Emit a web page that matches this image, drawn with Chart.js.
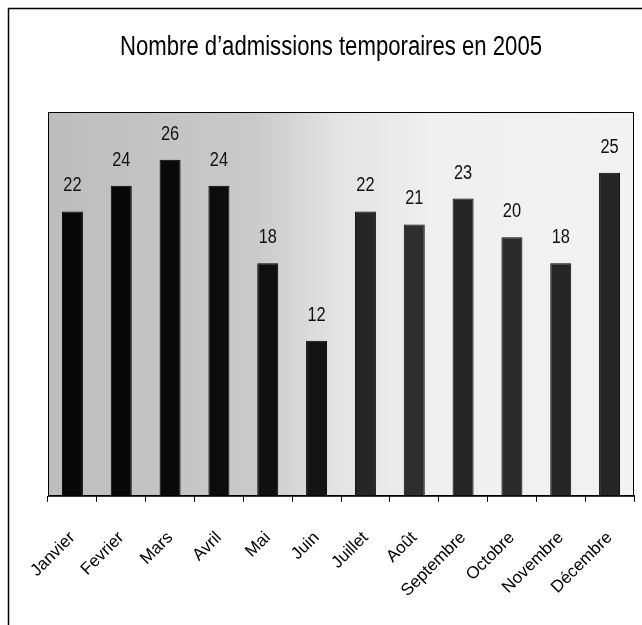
<!DOCTYPE html>
<html>
<head>
<meta charset="utf-8">
<script src="https://cdn.jsdelivr.net/npm/chart.js@4/dist/chart.umd.min.js"></script>
<style>
  html, body { margin: 0; padding: 0; background: #fff; }
  #wrap { width: 642px; height: 625px; }
</style>
</head>
<body>
<div id="wrap"><canvas id="admChart" width="642" height="625"></canvas></div>
<script>
const chartTitle = 'Nombre d’admissions temporaires en 2005';
const months = ['Janvier', 'Fevrier', 'Mars', 'Avril', 'Mai', 'Juin', 'Juillet', 'Août', 'Septembre', 'Octobre', 'Novembre', 'Décembre'];
const admissions = [22, 24, 26, 24, 18, 12, 22, 21, 23, 20, 18, 25];
const barColors = ['#080808', '#080808', '#0a0a0a', '#0c0c0c', '#101010', '#141414', '#262626', '#2e2e2e', '#262626', '#2a2a2a', '#262626', '#262626'];

const sans = "'Liberation Sans', Arial, sans-serif";

// narrow look: Liberation Sans squeezed horizontally
function narrowText(ctx, txt, x, y, size) {
    ctx.save();
    ctx.font = size + 'px ' + sans;
    ctx.translate(x, y);
    ctx.scale(0.82, 1);
    ctx.fillText(txt, 0, 0);
    ctx.restore();
}

// frame, title, speckled plot background, value labels
const backdrop = {
    id: 'backdrop',
    beforeDraw(chart) {
        const ctx = chart.ctx;
        const a = chart.chartArea;
        ctx.save();
        ctx.strokeStyle = '#000';
        ctx.lineWidth = 1.5;
        ctx.beginPath();
        ctx.moveTo(8.5, 625);
        ctx.lineTo(8.5, 8.5);
        ctx.lineTo(642, 8.5);
        ctx.stroke();

        ctx.fillStyle = '#000';
        ctx.textAlign = 'center';
        ctx.textBaseline = 'middle';
        narrowText(ctx, chartTitle, 331, 48, 27);

        const g = ctx.createLinearGradient(a.left, 0, a.right, 0);
        g.addColorStop(0, '#bdbdbd');
        g.addColorStop(0.35, '#c9c9c9');
        g.addColorStop(0.5, '#e4e4e4');
        g.addColorStop(0.65, '#efefef');
        g.addColorStop(1, '#f2f2f2');
        ctx.fillStyle = g;
        ctx.fillRect(a.left, a.top, a.right - a.left, a.bottom - a.top);
        ctx.restore();
    },
    afterDatasetsDraw(chart) {
        const ctx = chart.ctx;
        const a = chart.chartArea;
        ctx.save();
        ctx.strokeStyle = '#000';
        ctx.lineWidth = 1;
        ctx.strokeRect(a.left + 0.5, a.top + 0.5, a.right - a.left - 1, a.bottom - a.top);
        ctx.fillStyle = '#111';
        ctx.textAlign = 'center';
        ctx.textBaseline = 'alphabetic';
        chart.getDatasetMeta(0).data.forEach((bar, i) => {
            narrowText(ctx, String(admissions[i]), bar.x, bar.y - 20, 20);
        });
        ctx.restore();
    }
};

new Chart(document.getElementById('admChart'), {
    type: 'bar',
    data: {
        labels: months,
        datasets: [{
            data: admissions,
            backgroundColor: barColors,
            borderColor: '#000',
            borderWidth: 1,
            barPercentage: 0.43,
            categoryPercentage: 1
        }]
    },
    options: {
        responsive: false,
        animation: false,
        layout: { padding: { left: 48, right: 8, top: 112, bottom: -2 } },
        plugins: {
            legend: { display: false },
            tooltip: { enabled: false },
            title: { display: false }
        },
        scales: {
            x: {
                grid: { offset: true, drawOnChartArea: false, drawTicks: true, tickLength: 6, color: '#000' },
                border: { color: '#000', width: 1 },
                ticks: {
                    color: '#000',
                    font: { family: sans, size: 17 },
                    minRotation: 45,
                    maxRotation: 45,
                    padding: 26,
                    autoSkip: false
                },
                afterFit(scale) {
                    scale.paddingLeft = 0;
                    scale.paddingRight = 0;
                }
            },
            y: {
                display: false,
                min: 0,
                max: 29.7
            }
        }
    },
    plugins: [backdrop]
});
</script>
</body>
</html>
